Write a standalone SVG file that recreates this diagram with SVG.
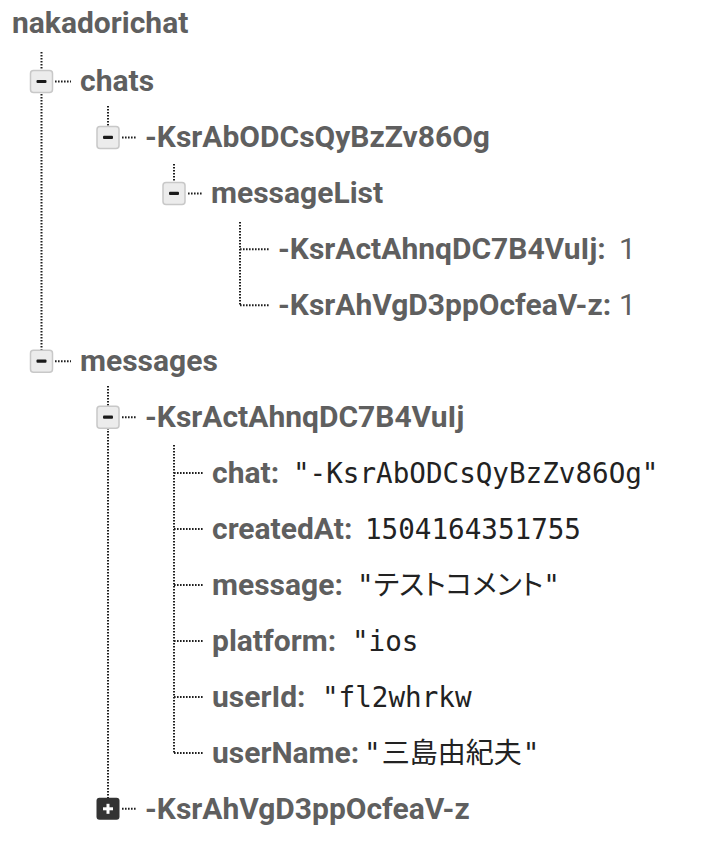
<svg xmlns="http://www.w3.org/2000/svg" width="728" height="848" viewBox="0 0 728 848">
<style>
.k{font-family:Roboto,"Noto Sans",sans-serif;font-weight:bold;font-size:30px;fill:#5f5f5f}
.n{font-family:Roboto,"Noto Sans",sans-serif;font-size:30px;fill:#5f5f5f}
.v{font-family:"DejaVu Sans Mono","Liberation Mono",monospace;font-size:27.6px;fill:#222}
.j{font-family:"Noto Sans CJK JP",sans-serif;font-size:28px;fill:#222}
.p{font-feature-settings:"palt"}
.d{stroke:#1e1e1e;stroke-width:2;stroke-dasharray:1.6 1.4;fill:none}
.bx{fill:#ececec;stroke:#c8c8c8;stroke-width:1.5}
.mn{fill:#1a1a1a}
</style>
<defs>
<g id="minus"><rect class="bx" x="-11" y="-11" width="22" height="22" rx="3"/><rect class="mn" x="-5" y="-1.6" width="10" height="3.2" rx="1"/></g>
<g id="plus"><rect fill="#333" x="-11.5" y="-11" width="23" height="22" rx="3"/><rect fill="#fff" x="-5" y="-1.5" width="10" height="3"/><rect fill="#fff" x="-1.5" y="-5" width="3" height="10"/></g>
</defs>
<g id="connectors">
<path class="d" d="M41.5 52V350M55 81.5H71M55 361.2H71"/>
<path class="d" d="M108 106V126M122 137.4H137"/>
<path class="d" d="M174 164V182M188 193.4H203"/>
<path class="d" d="M240 222V305.3M240 249.3H270M240 305.3H270"/>
<path class="d" d="M108 386V798M122 417.2H137M122 808.8H137"/>
<path class="d" d="M174 445V752.9M174 473.1H204M174 529.1H204M174 585H204M174 641H204M174 696.9H204M174 752.9H204"/>
</g>
<g id="root"><text class="k" x="12" y="33">nakadorichat</text></g>
<g id="chats"><use href="#minus" x="41.5" y="81.5"/><text class="k" x="80" y="91">chats</text></g>
<g id="chat-KsrAbODCsQyBzZv86Og"><use href="#minus" x="108" y="137.4"/><text class="k" x="145" y="147">-KsrAbODCsQyBzZv86Og</text></g>
<g id="messageList"><use href="#minus" x="174" y="193.4"/><text class="k" x="211" y="203">messageList</text></g>
<g id="ml-KsrActAhnqDC7B4VuIj"><text class="k" x="278" y="259">-KsrActAhnqDC7B4VuIj:</text><text class="n" x="619" y="259">1</text></g>
<g id="ml-KsrAhVgD3ppOcfeaV-z"><text class="k" x="278" y="315">-KsrAhVgD3ppOcfeaV-z:</text><text class="n" x="619" y="315">1</text></g>
<g id="messages"><use href="#minus" x="41.5" y="361.2"/><text class="k" x="80" y="371">messages</text></g>
<g id="msg-KsrActAhnqDC7B4VuIj"><use href="#minus" x="108" y="417.2"/><text class="k" x="145" y="427">-KsrActAhnqDC7B4VuIj</text></g>
<g id="f-chat"><text class="k" x="212" y="483">chat:</text><text class="v" x="293" y="483">"-KsrAbODCsQyBzZv86Og"</text></g>
<g id="f-createdAt"><text class="k" x="212" y="539">createdAt:</text><text class="v" x="365" y="539">1504164351755</text></g>
<g id="f-message"><text class="k" x="212" y="595">message:</text><text class="v" x="357" y="595">"<tspan class="j p">テストコメント</tspan>"</text></g>
<g id="f-platform"><text class="k" x="212" y="651">platform:</text><text class="v" x="352" y="651">"ios</text></g>
<g id="f-userId"><text class="k" x="212" y="707">userId:</text><text class="v" x="322" y="707">"fl2whrkw</text></g>
<g id="f-userName"><text class="k" x="212" y="763">userName:</text><text class="v" x="364" y="763">"<tspan class="j" dx="1">三島由紀夫</tspan><tspan dx="1">"</tspan></text></g>
<g id="msg-KsrAhVgD3ppOcfeaV-z"><use href="#plus" x="108" y="808.8"/><text class="k" x="145" y="819">-KsrAhVgD3ppOcfeaV-z</text></g>
</svg>
